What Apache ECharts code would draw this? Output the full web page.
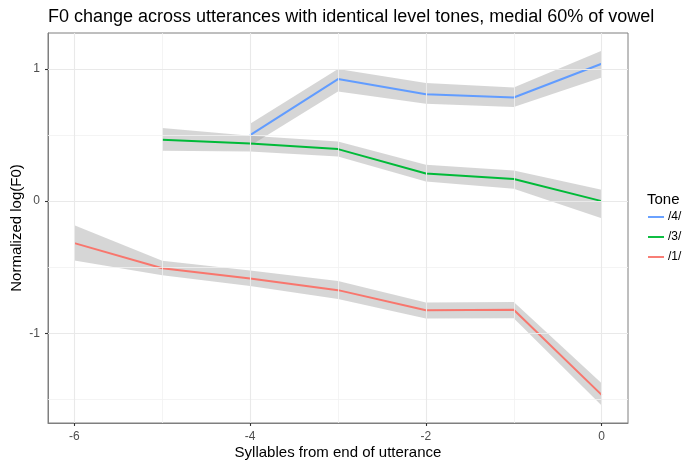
<!DOCTYPE html>
<html>
<head>
<meta charset="utf-8">
<script src="https://cdn.jsdelivr.net/npm/echarts@6/dist/echarts.min.js"></script>
<style>html,body{margin:0;padding:0;background:#fff}#c{width:682px;height:460px}</style>
</head>
<body>
<div id="c"></div>
<script>
// ---- data ----
const toneNames = ['/4/', '/3/', '/1/'];
const toneColors = ['#619CFF', '#00BA38', '#F8766D'];

const x4 = [-4, -3, -2, -1, 0];
const y4 = [0.50, 0.924, 0.81, 0.785, 1.04];
const lo4 = [0.42, 0.83, 0.737, 0.712, 0.937];
const hi4 = [0.585, 1.0, 0.894, 0.861, 1.139];

const x3 = [-5, -4, -3, -2, -1, 0];
const y3 = [0.464, 0.436, 0.394, 0.209, 0.167, 0.0];
const lo3 = [0.381, 0.376, 0.338, 0.149, 0.093, -0.129];
const hi3 = [0.553, 0.495, 0.452, 0.275, 0.232, 0.086];

const x1 = [-6, -5, -4, -3, -2, -1, 0];
const y1 = [-0.318, -0.508, -0.586, -0.674, -0.826, -0.822, -1.467];
const lo1 = [-0.45, -0.561, -0.642, -0.742, -0.889, -0.886, -1.548];
const hi1 = [-0.182, -0.452, -0.526, -0.604, -0.768, -0.764, -1.379];

const xMajor = [-6, -4, -2, 0];
const xMinor = [-5, -3, -1];
const yMajor = [-1, 0, 1];
const yMinor = [-1.5, -0.5, 0.5];
const xRange = [-6.3, 0.3];
const yRange = [-1.68, 1.273];

// ---- build ----
const groups = [
  {name: toneNames[0], color: toneColors[0], x: x4, y: y4, lo: lo4, hi: hi4},
  {name: toneNames[1], color: toneColors[1], x: x3, y: y3, lo: lo3, hi: hi3},
  {name: toneNames[2], color: toneColors[2], x: x1, y: y1, lo: lo1, hi: hi1}
];
const pairs = (xs, ys) => xs.map((x, i) => [x, ys[i]]);
const series = [];

// gridlines
const vLine = (v, major) => ({xAxis: v, lineStyle: {color: major ? '#e9e9e9' : '#f1f1f1', width: major ? 1.1 : 0.8, type: 'solid'}});
const hLine = (v, major) => ({yAxis: v, lineStyle: {color: major ? '#e9e9e9' : '#f1f1f1', width: major ? 1.1 : 0.8, type: 'solid'}});
series.push({
  type: 'line', name: 'grid', data: [], silent: true, z: 0,
  markLine: {
    silent: true, symbol: ['none', 'none'], label: {show: false}, animation: false,
    data: [].concat(xMinor.map(v => vLine(v, false)), yMinor.map(v => hLine(v, false)),
                    xMajor.map(v => vLine(v, true)), yMajor.map(v => hLine(v, true)))
  }
});

// ribbons as polygons through the axis scales
groups.slice().reverse().forEach((g, k) => {
  series.push({
    type: 'custom', name: 'band' + k, silent: true, z: 1,
    data: g.x.map((x, i) => [x, g.lo[i], g.hi[i]]),
    encode: {x: 0, y: [1, 2]},
    renderItem: function (params, api) {
      if (params.dataIndex !== 0) return null;
      const n = g.x.length;
      const pts = [];
      for (let i = 0; i < n; i++) pts.push(api.coord([g.x[i], g.hi[i]]));
      for (let i = n - 1; i >= 0; i--) pts.push(api.coord([g.x[i], g.lo[i]]));
      return {type: 'polygon', shape: {points: pts}, style: {fill: 'rgba(153,153,153,0.4)', stroke: null}};
    }
  });
});

// lines
groups.slice().reverse().forEach(g => {
  series.push({
    type: 'line', name: g.name, data: pairs(g.x, g.y), symbol: 'none',
    lineStyle: {color: g.color, width: 2}, itemStyle: {color: g.color}, z: 3
  });
});

const chart = echarts.init(document.getElementById('c'), null, {renderer: 'canvas'});
const FONT = 'Liberation Sans, Arial, Helvetica, sans-serif';
chart.setOption({
  animation: false,
  backgroundColor: '#fff',
  title: [
    {text: 'F0 change across utterances with identical level tones, medial 60% of vowel',
     left: 48, top: 7, padding: 0, textStyle: {fontFamily: FONT, fontSize: 18, fontWeight: 'normal', color: '#000', lineHeight: 20}},
    {text: 'Tone', left: 647, top: 191, padding: 0, textStyle: {fontFamily: FONT, fontSize: 15, fontWeight: 'normal', color: '#000', lineHeight: 17}}
  ],
  legend: {
    data: toneNames, orient: 'vertical', left: 648, top: 210, padding: 0,
    icon: 'path://M0,0 L17,0 L17,2 L0,2 Z', itemWidth: 16, itemHeight: 2, itemGap: 6,
    textStyle: {fontFamily: FONT, fontSize: 12, color: '#000', lineHeight: 14, padding: [0, 0, 0, -1], overflow: 'none'}
  },
  grid: {left: 48, right: 54, top: 33, bottom: 37, show: true, borderColor: '#7f7f7f', borderWidth: 1,
         backgroundColor: 'transparent', outerBoundsMode: 'none', containLabel: false},
  xAxis: {
    type: 'value', min: xRange[0], max: xRange[1],
    name: 'Syllables from end of utterance', nameLocation: 'middle', nameGap: 22, nameMoveOverlap: false,
    nameTextStyle: {fontFamily: FONT, fontSize: 15, color: '#000'},
    axisLine: {show: true, onZero: false, lineStyle: {color: '#7f7f7f', width: 1}},
    axisTick: {show: true, inside: false, customValues: xMajor, length: 3, lineStyle: {color: '#333333', width: 1.1}},
    axisLabel: {customValues: xMajor, fontFamily: FONT, fontSize: 12, color: '#4d4d4d', margin: 8},
    splitLine: {show: false}
  },
  yAxis: {
    type: 'value', min: yRange[0], max: yRange[1],
    name: 'Normalized log(F0)', nameLocation: 'middle', nameGap: 24, nameRotate: 90, nameMoveOverlap: false,
    nameTextStyle: {fontFamily: FONT, fontSize: 15, color: '#000'},
    axisLine: {show: true, onZero: false, lineStyle: {color: '#7f7f7f', width: 1}},
    axisTick: {show: true, inside: false, customValues: yMajor, length: 3, lineStyle: {color: '#333333', width: 1.1}},
    axisLabel: {customValues: yMajor, fontFamily: FONT, fontSize: 12, color: '#4d4d4d', margin: 8},
    splitLine: {show: false}
  },
  series: series
});
</script>
</body>
</html>
